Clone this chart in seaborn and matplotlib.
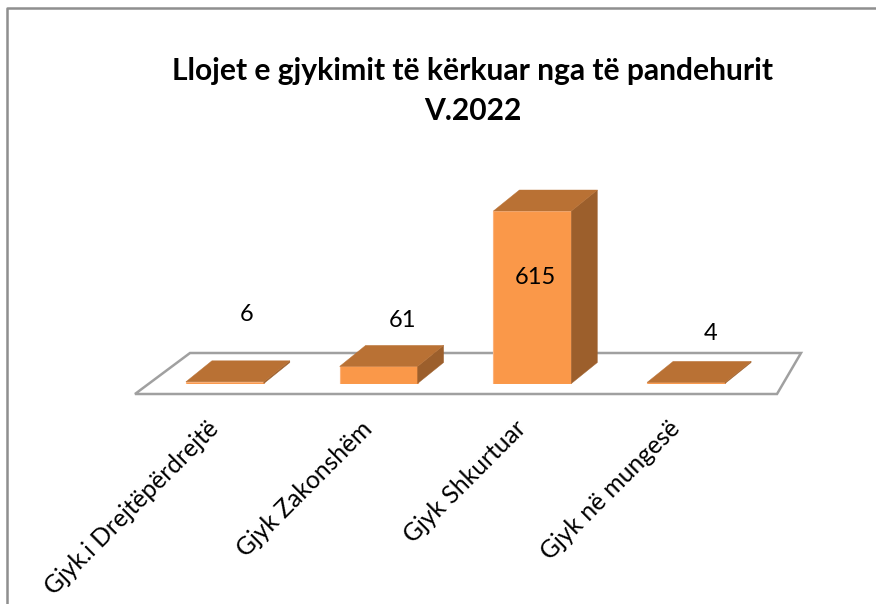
import seaborn as sns
import matplotlib.pyplot as plt
import pandas as pd
from matplotlib.lines import Line2D
from matplotlib.patches import Polygon
from matplotlib.transforms import IdentityTransform, ScaledTranslation

categories = ['Gjyk.i Drejtëpërdrejtë', 'Gjyk Zakonshëm', 'Gjyk Shkurtuar', 'Gjyk në mungesë']
values = [6, 61, 615, 4]
title = 'Llojet e gjykimit të kërkuar nga të pandehurit\nV.2022'

W, H = 876, 604
DEPTH_X, DEPTH_Y = 26, 21
# label offsets from the top of each bar, in pixels
label_dx = [22, 24, 3, 24]
label_dy = [67, 46, -66, 49]

FRONT = '#fa9849'
TOP = '#b97134'
SIDE = '#9c5f2c'
GREY = '#a0a0a0'

sns.set_theme(style='white')
plt.rcParams['font.family'] = ['Lato', 'DejaVu Sans']

df = pd.DataFrame({'type': categories, 'count': values})

fig = plt.figure(figsize=(W / 100, H / 100), dpi=100)
ax = fig.add_axes([148 / W, (H - 383.5) / H, 615 / W, 172.5 / H])
sns.barplot(data=df, x='type', y='count', color=FRONT, saturation=1, width=0.507,
            edgecolor='#fcb27a', linewidth=0.8, zorder=3, ax=ax)
ax.set_ylim(0, 615)
ax.set_xlim(-0.5, 3.5)
ax.set_xlabel('')
ax.set_ylabel('')
ax.set_yticks([])
ax.tick_params(axis='x', length=0, pad=24)
ax.set_xticks(range(len(categories)))
ax.set_xticklabels(categories, rotation=45, ha='right', va='top',
                   rotation_mode='anchor', fontsize=17.7, color='black')
shift = ScaledTranslation(-18 / 100, 0, fig.dpi_scale_trans)
for lab in ax.get_xticklabels():
    lab.set_transform(lab.get_transform() + shift)
sns.despine(ax=ax, left=True, bottom=True)
ax.patch.set_visible(False)

# floor of the 3d chart, in display pixels
floor = [(135, H - 394), (777, H - 394), (801, H - 353), (190, H - 353)]
ax.add_patch(Polygon(floor, closed=True, facecolor='white', edgecolor=GREY, linewidth=1.8,
                     transform=IdentityTransform(), clip_on=False, zorder=1))

# top and side faces follow the bars that seaborn drew
for i, bar in enumerate(ax.patches[:len(values)]):
    (x0, y0), (x1, y1) = ax.transData.transform(
        [(bar.get_x(), 0), (bar.get_x() + bar.get_width(), bar.get_height())])
    top = [(x0, y1), (x1, y1), (x1 + DEPTH_X, y1 + DEPTH_Y), (x0 + DEPTH_X, y1 + DEPTH_Y)]
    side = [(x1, y0), (x1 + DEPTH_X, y0 + DEPTH_Y), (x1 + DEPTH_X, y1 + DEPTH_Y), (x1, y1)]
    for pts, col in ((side, SIDE), (top, TOP)):
        ax.add_patch(Polygon(pts, closed=True, facecolor=col, edgecolor=col, linewidth=0.3,
                             transform=IdentityTransform(), clip_on=False, zorder=4))
    ax.annotate(str(values[i]), xy=(i, values[i]), xycoords='data',
                xytext=(label_dx[i] * 0.72, label_dy[i] * 0.72), textcoords='offset points',
                ha='center', va='center', fontsize=17, color='black', zorder=6,
                annotation_clip=False)

fig.text(473 / W, (H - 91) / H, title, ha='center', va='center', fontsize=21.6,
         fontweight='bold', color='black', linespacing=1.5)

# outer chart frame runs off the picture on the right and at the bottom
fig.add_artist(Line2D([7 / W, 7 / W, 1], [0, (H - 8) / H, (H - 8) / H], color='#8f8f8f', linewidth=1.8))

fig.savefig('out.png', dpi=100, facecolor='white')
